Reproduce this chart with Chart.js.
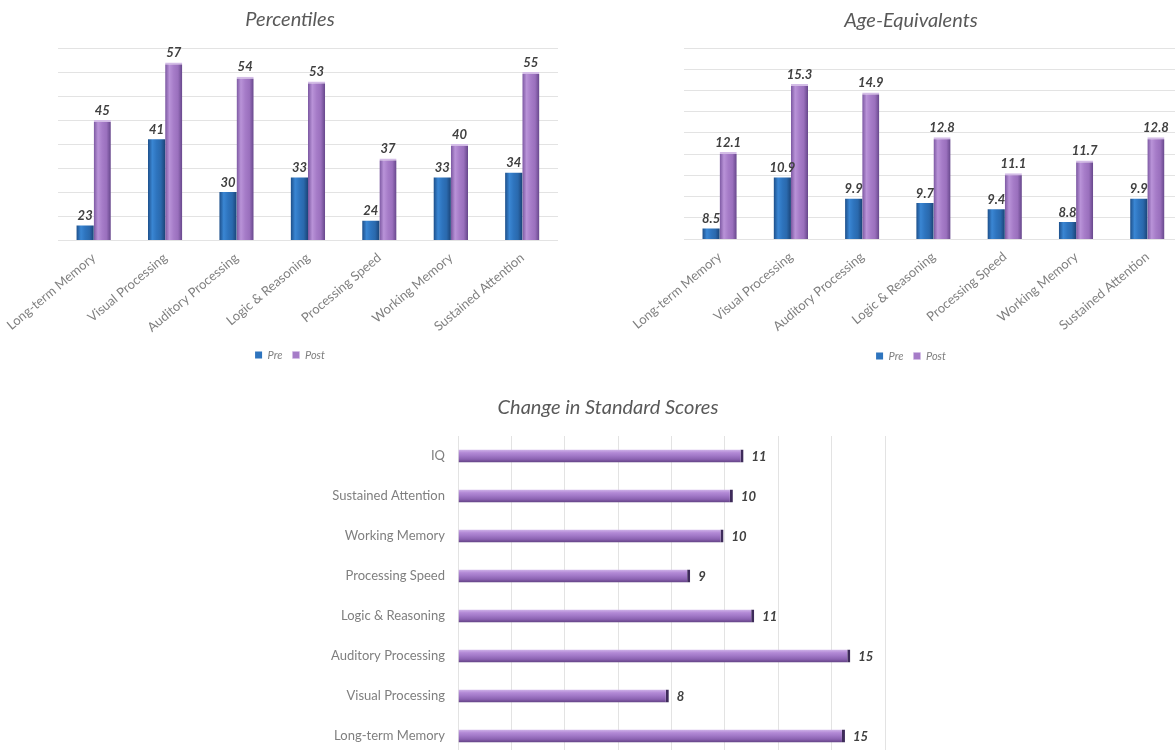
<!DOCTYPE html>
<html lang="en">
<head>
  <meta charset="UTF-8">
  <title>Pre / Post Cognitive Skills</title>
  <script src="https://cdn.jsdelivr.net/npm/chart.js"></script>
  <style>
    html, body {
      margin: 0;
      padding: 0;
      background: #ffffff;
      overflow: hidden;
    }
    body {
      width: 1175px;
      height: 750px;
      position: relative;
    }
    .box { position: absolute; }
    #pctBox { left: 0; top: 0; }
    #ageBox { left: 590px; top: 0; }
    #chgBox { left: 280px; top: 384px; }
  </style>
</head>
<body>
  <div class="box" id="pctBox"><canvas id="pctChart" width="590" height="380"></canvas></div>
  <div class="box" id="ageBox"><canvas id="ageChart" width="642" height="380"></canvas></div>
  <div class="box" id="chgBox"><canvas id="chgChart" width="660" height="380"></canvas></div>

  <script>
    // skills shown on the two column charts
    const skills = ["Long-term Memory", "Visual Processing", "Auditory Processing", "Logic & Reasoning",
                    "Processing Speed", "Working Memory", "Sustained Attention"];

    // Percentiles
    const pctPre  = [23, 41, 30, 33, 24, 33, 34];
    const pctPost = [45, 57, 54, 53, 37, 40, 55];

    // Age-Equivalents
    const agePre  = [8.5, 10.9, 9.9, 9.7, 9.4, 8.8, 9.9];
    const agePost = [12.1, 15.3, 14.9, 12.8, 11.1, 11.7, 12.8];

    // Change in Standard Scores (top to bottom)
    const changeSkills = ["IQ", "Sustained Attention", "Working Memory", "Processing Speed",
                          "Logic & Reasoning", "Auditory Processing", "Visual Processing", "Long-term Memory"];
    const changeScores = [10.7, 10.3, 9.95, 8.7, 11.1, 14.7, 7.9, 14.5];

    const FONT = "Lato";
    const GREY = "#7f7f7f";
    const GRID = "#e3e3e3";

    // shaded fill so the bars look a bit like the 3D excel cylinders
    const cylinder = {
      id: "cylinder",
      beforeDatasetsDraw(chart) {
        const ctx = chart.ctx;
        const horiz = chart.options.indexAxis === "y";
        chart.data.datasets.forEach((ds, i) => {
          const stops = ds.shade;
          chart.getDatasetMeta(i).data.forEach(bar => {
            const p = bar.getProps(["x", "y", "width", "height"], true);
            let g;
            if (horiz) g = ctx.createLinearGradient(0, p.y - p.height / 2, 0, p.y + p.height / 2);
            else g = ctx.createLinearGradient(p.x - p.width / 2, 0, p.x + p.width / 2, 0);
            stops.forEach((c, k) => g.addColorStop(k / (stops.length - 1), c));
            bar.options = Object.assign({}, bar.options, { backgroundColor: g });
          });
        });
      }
    };

    // numbers over / beside the bars
    const valueLabels = {
      id: "valueLabels",
      afterDatasetsDraw(chart, args, opts) {
        const ctx = chart.ctx;
        ctx.save();
        ctx.font = "italic bold 13px " + FONT;
        ctx.fillStyle = "#404040";
        chart.data.datasets.forEach((ds, i) => {
          chart.getDatasetMeta(i).data.forEach((bar, j) => {
            const txt = opts.format(ds.data[j]);
            if (chart.options.indexAxis === "y") {
              ctx.textAlign = "left";
              ctx.textBaseline = "middle";
              ctx.fillText(txt, bar.x + 8, bar.y + 1);
            } else {
              ctx.textAlign = "center";
              ctx.textBaseline = "bottom";
              ctx.fillText(txt, bar.x, bar.y - 3);
            }
          });
        });
        ctx.restore();
      }
    };

    const preShade  = ["#1d4f8a", "#3a86d3", "#2e74be", "#2a69ad", "#1b4478"];
    const postShade = ["#7a56a0", "#b993d8", "#a67cc8", "#9a70bd", "#65468a"];

    function titleOpts(text, top, bottom) {
      return {
        display: true,
        text: text,
        color: "#595959",
        font: { family: FONT, size: 20, style: "italic", weight: "normal" },
        padding: { top: top, bottom: bottom }
      };
    }

    // empty axis on the right, only used to keep the title centred where it was
    function spacer(axis, w) {
      return {
        type: "linear", position: "right", axis: axis, display: true,
        ticks: { display: false },
        grid: { display: false, drawTicks: false },
        border: { display: false },
        afterFit: s => { s.width = w; }
      };
    }

    function columnChart(id, title, pre, post, yMin, yMax, step, fmt, dims) {
      return new Chart(document.getElementById(id), {
        type: "bar",
        data: {
          labels: skills,
          datasets: [
            { label: "Pre", data: pre, backgroundColor: "#2e74be", shade: preShade,
              borderWidth: 0 },
            { label: "Post", data: post, backgroundColor: "#a67cc8", shade: postShade,
              borderWidth: { top: 2, left: 0, right: 0, bottom: 0 }, borderColor: "#d3bce6" }
          ]
        },
        options: {
          responsive: false,
          animation: false,
          categoryPercentage: 0.48,
          barPercentage: 1,
          layout: { padding: { left: 0, right: dims.right, top: 0, bottom: dims.bottom } },
          plugins: {
            title: titleOpts(title, dims.titleTop, dims.titleBottom),
            legend: {
              position: "bottom",
              labels: {
                boxWidth: 7, boxHeight: 7, padding: 10, color: GREY,
                font: { family: FONT, size: 11, style: "italic" }
              }
            },
            tooltip: { enabled: false },
            valueLabels: { format: fmt }
          },
          scales: {
            x: {
              grid: { display: false, drawTicks: false },
              border: { display: false },
              ticks: {
                color: GREY, font: { family: FONT, size: 13 },
                minRotation: 40, maxRotation: 40, padding: 10
              },
              afterFit: s => { s.height = dims.xHeight; s.paddingLeft = 0; s.paddingRight = 0; }
            },
            y: {
              min: yMin, max: yMax,
              ticks: { display: false, stepSize: step },
              grid: { color: GRID, drawTicks: false },
              border: { display: false },
              afterFit: s => { s.width = dims.yWidth; s.paddingTop = 0; s.paddingBottom = 0; }
            },
            yRight: spacer("y", dims.spacer)
          }
        },
        plugins: [cylinder, valueLabels]
      });
    }

    columnChart("pctChart", "Percentiles", pctPre, pctPost, 20, 60, 5, v => String(v),
      { right: 10, bottom: 9.5, titleTop: 8, titleBottom: 16, xHeight: 99.5, yWidth: 58, spacer: 22 });

    columnChart("ageChart", "Age-Equivalents", agePre, agePost, 8, 17, 1, v => v.toFixed(1),
      { right: 0, bottom: 8.5, titleTop: 9, titleBottom: 15, xHeight: 101.5, yWidth: 94, spacer: 49 });

    new Chart(document.getElementById("chgChart"), {
      type: "bar",
      data: {
        labels: changeSkills,
        datasets: [{
          label: "Change",
          data: changeScores,
          backgroundColor: "#a67cc8",
          shade: ["#d2b6ea", "#b38ad6", "#a077c6", "#8a61b0", "#5e3f80"],
          borderWidth: { top: 0, left: 0, bottom: 0, right: 3 },
          borderColor: "#3e2b5a"
        }]
      },
      options: {
        indexAxis: "y",
        responsive: false,
        animation: false,
        categoryPercentage: 1,
        barPercentage: 0.33,
        layout: { padding: { left: 0, right: 4, top: 0, bottom: 0 } },
        plugins: {
          title: titleOpts("Change in Standard Scores", 12, 16),
          legend: { display: false },
          tooltip: { enabled: false },
          valueLabels: { format: v => String(Math.round(v)) }
        },
        scales: {
          x: {
            min: 0, max: 16,
            ticks: { display: false, stepSize: 2 },
            grid: { color: GRID, drawTicks: false },
            border: { display: false },
            afterFit: s => { s.height = 8; s.paddingLeft = 0; s.paddingRight = 0; }
          },
          y: {
            grid: { display: false, drawTicks: false },
            border: { display: false },
            ticks: { color: GREY, font: { family: FONT, size: 13 }, padding: 13 },
            afterFit: s => { s.width = 178; s.paddingTop = 0; s.paddingBottom = 0; }
          },
          yRight: spacer("y", 51)
        }
      },
      plugins: [cylinder, valueLabels]
    });
  </script>
</body>
</html>
